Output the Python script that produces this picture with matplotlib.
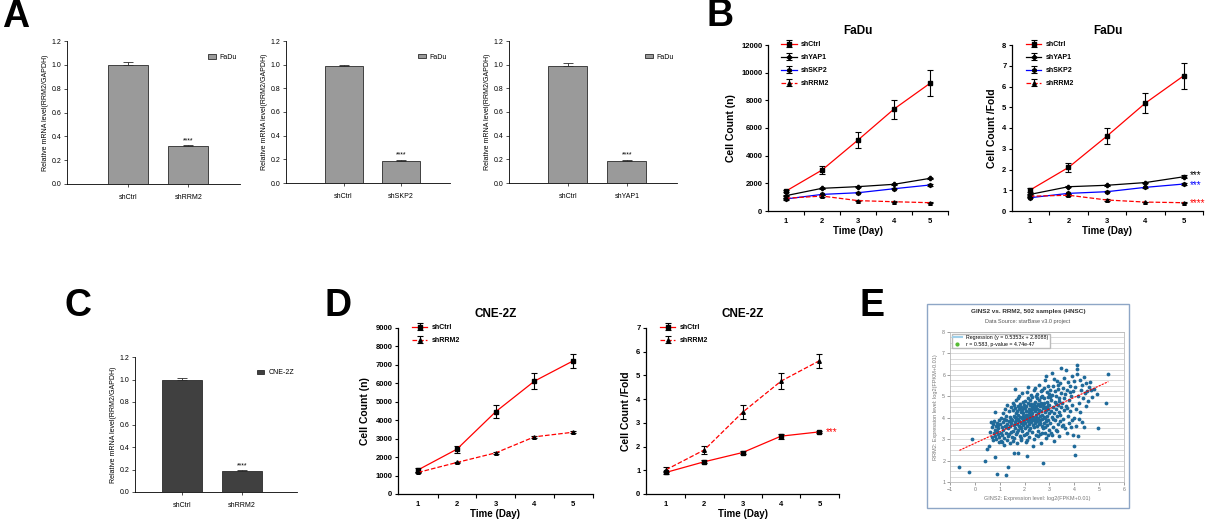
import numpy as np
import matplotlib
matplotlib.use("Agg")
import matplotlib.pyplot as plt
from matplotlib.lines import Line2D
from matplotlib.patches import Rectangle
from matplotlib.ticker import MultipleLocator

plt.rcParams['font.family'] = ['Liberation Sans', 'DejaVu Sans']

# ---------------- data ----------------
# panel A (qPCR, FaDu)
a_groups = [["shCtrl", "shRRM2"], ["shCtrl", "shSKP2"], ["shCtrl", "shYAP1"]]
a_vals = [[1.0, 0.32], [0.99, 0.19], [0.99, 0.19]]
a_errs = [[0.025, 0.004], [0.008, 0.008], [0.02, 0.008]]

# panel B (FaDu growth)
days = [1, 2, 3, 4, 5]
b_series = ["shCtrl", "shYAP1", "shSKP2", "shRRM2"]
b_count = {
    "shCtrl": [1440, 2960, 5130, 7370, 9230],
    "shYAP1": [1110, 1640, 1760, 1930, 2360],
    "shSKP2": [870, 1200, 1320, 1610, 1880],
    "shRRM2": [920, 1080, 750, 670, 600],
}
b_count_err = {
    "shCtrl": [80, 300, 580, 690, 930],
    "shYAP1": [40, 40, 40, 40, 60],
    "shSKP2": [40, 40, 40, 40, 60],
    "shRRM2": [40, 100, 40, 40, 40],
}
b_fold = {
    "shCtrl": [1.01, 2.10, 3.61, 5.20, 6.52],
    "shYAP1": [0.80, 1.17, 1.24, 1.37, 1.65],
    "shSKP2": [0.64, 0.85, 0.93, 1.14, 1.30],
    "shRRM2": [0.71, 0.76, 0.53, 0.43, 0.40],
}
b_fold_err = {
    "shCtrl": [0.08, 0.20, 0.40, 0.48, 0.63],
    "shYAP1": [0.03, 0.03, 0.03, 0.04, 0.08],
    "shSKP2": [0.03, 0.03, 0.03, 0.03, 0.04],
    "shRRM2": [0.03, 0.05, 0.03, 0.02, 0.02],
}
b_stars = {"shYAP1": "***", "shSKP2": "***", "shRRM2": "****"}

# panel C (qPCR, CNE-2Z)
c_groups = ["shCtrl", "shRRM2"]
c_vals = [1.0, 0.185]
c_errs = [0.015, 0.008]

# panel D (CNE-2Z growth)
d_series = ["shCtrl", "shRRM2"]
d_count = {"shCtrl": [1310, 2430, 4460, 6120, 7220],
           "shRRM2": [1170, 1710, 2230, 3100, 3350]}
d_count_err = {"shCtrl": [110, 180, 360, 430, 380],
               "shRRM2": [40, 40, 40, 60, 40]}
d_fold = {"shCtrl": [0.91, 1.36, 1.75, 2.44, 2.62],
          "shRRM2": [1.02, 1.86, 3.45, 4.76, 5.62]}
d_fold_err = {"shCtrl": [0.06, 0.06, 0.05, 0.1, 0.04],
              "shRRM2": [0.1, 0.16, 0.3, 0.35, 0.3]}

# panel E (GINS2 vs RRM2 scatter)
gins2 = [
    0.62, 0.68, 0.70, 0.74, 0.76, 0.79, 0.80, 0.83, 0.85, 0.87, 0.88, 0.90, 0.92, 0.95, 0.96, 0.98, 0.99, 0.72, 0.93, 0.66,
    1.02, 1.04, 1.05, 1.07, 1.09, 1.10, 1.12, 1.14, 1.15, 1.17, 1.19, 1.20, 1.22, 1.24, 1.25, 1.27, 1.28, 1.30, 1.31, 1.33,
    1.35, 1.36, 1.38, 1.40, 1.41, 1.43, 1.44, 1.46, 1.47, 1.49, 1.10, 1.26, 1.39, 1.18, 1.45,
    1.51, 1.52, 1.53, 1.54, 1.55, 1.56, 1.57, 1.58, 1.60, 1.61, 1.62, 1.63, 1.64, 1.65, 1.66, 1.67, 1.68, 1.70, 1.71, 1.72,
    1.73, 1.74, 1.75, 1.76, 1.77, 1.78, 1.79, 1.80, 1.81, 1.82, 1.83, 1.84, 1.85, 1.86, 1.87, 1.88, 1.89, 1.90, 1.91, 1.92,
    1.93, 1.94, 1.95, 1.96, 1.97, 1.98, 1.99, 1.58, 1.69, 1.84, 1.62, 1.93, 1.74, 1.66, 1.87,
    2.00, 2.01, 2.02, 2.03, 2.04, 2.05, 2.06, 2.07, 2.08, 2.09, 2.10, 2.11, 2.12, 2.13, 2.14, 2.15, 2.16, 2.17, 2.18, 2.19,
    2.20, 2.21, 2.22, 2.23, 2.24, 2.25, 2.26, 2.27, 2.28, 2.29, 2.30, 2.31, 2.32, 2.33, 2.34, 2.35, 2.36, 2.37, 2.38, 2.39,
    2.40, 2.41, 2.42, 2.43, 2.44, 2.45, 2.46, 2.47, 2.48, 2.49, 2.02, 2.07, 2.13, 2.18, 2.23, 2.27, 2.32, 2.37, 2.42, 2.47,
    2.05, 2.28, 2.44, 2.16, 2.35, 2.10,
    2.50, 2.51, 2.52, 2.53, 2.54, 2.55, 2.56, 2.57, 2.58, 2.59, 2.60, 2.61, 2.62, 2.63, 2.64, 2.65, 2.66, 2.67, 2.68, 2.69,
    2.70, 2.71, 2.72, 2.73, 2.74, 2.75, 2.76, 2.77, 2.78, 2.79, 2.80, 2.81, 2.82, 2.83, 2.84, 2.85, 2.86, 2.87, 2.88, 2.89,
    2.90, 2.91, 2.92, 2.93, 2.94, 2.95, 2.96, 2.97, 2.98, 2.99, 2.55, 2.60, 2.66, 2.72, 2.78, 2.84, 2.90, 2.96, 2.63, 2.81,
    2.93, 2.70,
    3.00, 3.02, 3.03, 3.05, 3.06, 3.08, 3.09, 3.10, 3.12, 3.13, 3.15, 3.16, 3.18, 3.19, 3.21, 3.22, 3.24, 3.25, 3.27, 3.28,
    3.30, 3.31, 3.33, 3.34, 3.36, 3.37, 3.39, 3.40, 3.42, 3.43, 3.45, 3.46, 3.48, 3.49, 3.04, 3.14, 3.20, 3.26, 3.32, 3.38,
    3.44, 3.11, 3.35,
    3.51, 3.53, 3.55, 3.57, 3.59, 3.61, 3.63, 3.65, 3.67, 3.69, 3.71, 3.73, 3.75, 3.77, 3.79, 3.81, 3.83, 3.85, 3.87, 3.89,
    3.91, 3.93, 3.95, 3.97, 3.99, 3.60, 3.72, 3.84, 3.90, 3.56,
    4.00, 4.03, 4.04, 4.06, 4.08, 4.10, 4.11, 4.12, 4.13, 4.15, 4.18, 4.21, 4.24, 4.27, 4.30, 4.33, 4.36, 4.38, 4.40, 4.43,
    4.46, 4.49, 4.20,
    4.52, 4.56, 4.60, 4.63, 4.66, 4.72, 4.80, 4.90, 4.94, 5.27, 5.37,
    -0.62, -0.22, -0.10, 0.41, 0.47, 0.58, 0.81, 0.88, 1.25, 1.33, 0.82, 1.57, 1.75, 2.10,
]
rrm2 = [
    3.35, 3.55, 3.10, 3.70, 3.30, 3.85, 3.45, 3.15, 3.60, 3.00, 3.75, 3.40, 3.25, 3.65, 3.90, 3.10, 2.85, 2.95, 3.50, 3.80,
    3.70, 3.30, 4.00, 2.90, 3.55, 3.20, 4.20, 3.80, 3.45, 2.75, 3.05, 4.40, 3.60, 3.90, 3.30, 4.10, 2.95, 3.70, 4.60, 3.50,
    3.15, 4.30, 3.85, 2.80, 3.60, 4.05, 3.35, 3.95, 4.50, 3.10, 2.85, 3.55, 3.25, 3.95, 3.75,
    3.90, 4.35, 3.40, 2.90, 4.70, 3.65, 4.10, 3.05, 4.45, 3.80, 3.50, 5.35, 4.20, 3.25, 4.00, 4.85, 3.70, 4.30, 2.80, 3.95,
    4.55, 3.45, 4.15, 3.60, 5.00, 4.40, 3.85, 3.15, 4.65, 4.05, 3.55, 4.25, 2.95, 3.75, 4.50, 4.00, 5.15, 3.40, 4.35, 3.90,
    4.75, 3.65, 4.10, 3.20, 4.45, 3.80, 4.60, 4.60, 3.35, 3.50, 4.05, 4.20, 4.90, 3.90, 3.05,
    4.00, 3.50, 4.80, 3.75, 4.30, 2.85, 4.55, 3.95, 5.20, 3.60, 4.15, 3.30, 4.70, 4.00, 3.85, 5.45, 4.40, 3.70, 4.25, 3.10,
    4.60, 3.95, 4.85, 3.50, 4.35, 4.10, 5.05, 3.80, 4.50, 3.35, 4.20, 4.95, 3.65, 4.40, 2.70, 4.05, 4.65, 3.90, 5.30, 3.55,
    4.30, 4.75, 5.40, 3.75, 4.15, 3.20, 4.55, 4.00, 4.90, 3.60, 4.45, 3.25, 4.90, 3.45, 4.15, 4.65, 4.00, 3.00, 4.45, 3.85,
    4.15, 3.90, 5.00, 4.00, 4.50, 2.95,
    4.40, 3.85, 5.10, 4.20, 3.40, 4.65, 4.00, 5.55, 3.70, 4.35, 4.85, 3.25, 4.10, 4.55, 3.90, 5.25, 4.30, 2.80, 4.70, 3.60,
    4.15, 5.00, 3.95, 4.45, 1.90, 3.50, 4.60, 5.40, 4.05, 3.75, 4.90, 4.25, 3.30, 5.75, 4.50, 3.85, 5.95, 4.35, 3.05, 4.75,
    4.10, 5.20, 3.65, 4.40, 4.95, 3.90, 4.60, 3.45, 5.10, 4.20, 3.15, 4.60, 4.95, 3.30, 4.70, 3.55, 4.50, 5.50, 3.75, 4.00,
    3.20, 5.30,
    4.60, 3.75, 5.30, 4.30, 3.30, 4.85, 6.10, 4.05, 5.05, 3.55, 4.50, 5.50, 4.20, 2.90, 4.75, 3.90, 5.25, 4.40, 3.45, 5.00,
    4.10, 5.70, 3.70, 4.60, 5.35, 4.25, 3.15, 4.90, 5.60, 3.85, 6.30, 4.50, 5.15, 3.60, 4.95, 3.95, 5.80, 4.65, 3.40, 4.80,
    4.15, 3.20, 5.55,
    4.70, 5.40, 3.95, 5.85, 4.35, 3.50, 5.10, 6.25, 4.55, 3.30, 5.30, 4.10, 5.65, 3.75, 4.85, 5.50, 4.30, 3.55, 5.00, 5.95,
    4.60, 3.20, 5.25, 4.00, 5.70, 4.90, 4.45, 5.20, 3.90, 3.65,
    2.70, 2.25, 5.45, 4.40, 3.60, 6.05, 6.27, 6.48, 3.15, 5.00, 4.70, 5.75, 4.25, 5.30, 3.80, 5.55, 4.90, 5.90, 3.56, 5.15,
    4.55, 5.60, 3.95,
    5.25, 4.80, 5.45, 5.68, 5.29, 4.95, 5.35, 5.11, 3.51, 4.69, 6.02,
    1.70, 1.47, 3.00, 2.00, 2.55, 2.70, 2.15, 1.37, 1.31, 1.70, 4.28, 2.35, 2.35, 2.23,
]
fit_slope, fit_icpt = 0.5353, 2.8088

# ---------------- figure ----------------
W, H = 1213, 521
fig = plt.figure(figsize=(W / 100, H / 100), dpi=100)


def px_axes(l, t, r, b):
    return fig.add_axes([l / W, 1 - b / H, (r - l) / W, (b - t) / H])


def fig_text(x, y, s, **kw):
    fig.text(x / W, 1 - y / H, s, **kw)


def bar_panel(box, labels, vals, errs, leg, color, xlim):
    ax = px_axes(*box)
    xs = np.arange(len(labels))
    ax.bar(xs, vals, width=0.66, color=color, edgecolor='#2a2a2a', lw=0.6, label=leg)
    ax.errorbar(xs, vals, yerr=[[0] * len(errs), errs], fmt='none', ecolor='#2a2a2a',
                elinewidth=0.6, capsize=3.5, capthick=0.6)
    ax.text(1, vals[1] + errs[1] + 0.01, '****', ha='center', va='bottom', fontsize=5)
    ax.set_xlim(*xlim)
    ax.set_ylim(0, 1.2)
    ax.set_yticks(np.arange(0, 1.21, 0.2))
    ax.set_yticklabels(['%.1f' % v for v in np.arange(0, 1.21, 0.2)])
    ax.set_xticks(xs)
    ax.set_xticklabels(labels)
    ax.tick_params(labelsize=5, width=0.6, length=2.5, pad=1.5, color='#333333')
    ax.tick_params(axis='x', pad=5)
    for s in ['top', 'right']:
        ax.spines[s].set_visible(False)
    for s in ['left', 'bottom']:
        ax.spines[s].set_linewidth(0.6)
    ax.set_ylabel('Relative mRNA level(RRM2/GAPDH)', fontsize=5, labelpad=2)
    ax.legend(loc='upper right', bbox_to_anchor=(1.0, 0.93), frameon=False, fontsize=5,
              handlelength=1.1, handleheight=0.6, handletextpad=0.6, borderaxespad=0)
    return ax


styles = {
    "shCtrl": dict(color='red', ls='-', marker='s', ms=2.8),
    "shYAP1": dict(color='black', ls='-', marker='P', ms=3),
    "shSKP2": dict(color='blue', ls='-', marker='h', ms=2.8),
    "shRRM2": dict(color='red', ls='--', marker='^', ms=2.6),
}


def growth_panel(box, names, vals, errs, ylim, yticks, xlim, title, ylabel, stars=None, star_dy=None):
    ax = px_axes(*box)
    for n in names:
        st = styles[n]
        ax.errorbar(days, vals[n], yerr=errs[n], color=st['color'], ls=st['ls'], lw=0.9,
                    marker=st['marker'], ms=st['ms'], mfc='black', mec='black',
                    ecolor='black', elinewidth=0.8, capsize=2.2, capthick=0.8, label=n)
    if stars:
        for n, s in stars.items():
            dy = star_dy.get(n, 0) if star_dy else 0
            ax.text(5.17, vals[n][-1] + dy, s, color=styles[n]['color'] if n != "shYAP1" else 'black',
                    fontsize=7, va='center', ha='left', clip_on=False)
    ax.set_xlim(*xlim)
    ax.set_ylim(*ylim)
    ax.set_xticks(days)
    ax.set_xticks([1.5, 2.5, 3.5, 4.5, 5.5], minor=True)
    ax.tick_params(axis='x', which='major', length=0, pad=5)
    ax.tick_params(axis='x', which='minor', length=3, width=0.8)
    ax.set_yticks(yticks)
    ax.tick_params(axis='y', length=2.5, width=0.8, pad=1.5)
    ax.tick_params(labelsize=5.5)
    for lab in ax.get_xticklabels() + ax.get_yticklabels():
        lab.set_fontweight('bold')
    for s in ['top', 'right']:
        ax.spines[s].set_visible(False)
    for s in ['left', 'bottom']:
        ax.spines[s].set_linewidth(0.9)
    ax.set_title(title, fontsize=8.5, fontweight='bold', pad=8)
    ax.set_ylabel(ylabel, fontsize=7.5, fontweight='bold', labelpad=4)
    ax.set_xlabel('Time (Day)', fontsize=7, fontweight='bold', labelpad=1)
    ax.legend(loc='upper left', bbox_to_anchor=(0.04, 1.06), frameon=False,
              prop=dict(size=5, weight='bold'), handlelength=2.2, labelspacing=0.85,
              handletextpad=0.6)
    return ax


# ----- panel A -----
a_boxes = [(67, 41, 240, 184), (286, 41, 450, 183), (509, 41, 677, 183)]
for box, g, v, e in zip(a_boxes, a_groups, a_vals, a_errs):
    bar_panel(box, g, v, e, 'FaDu', '#9a9a9a', (-1.0, 1.85))

# ----- panel B -----
growth_panel((768, 45, 948, 211), b_series, b_count, b_count_err, (0, 12000),
             range(0, 12001, 2000), (0.5, 5.18), 'FaDu', 'Cell Count (n)')
growth_panel((1012, 45, 1203, 211), b_series, b_fold, b_fold_err, (0, 8),
             range(0, 9), (0.53, 5.49), 'FaDu', 'Cell Count /Fold', stars=b_stars,
             star_dy={"shYAP1": 0.08, "shSKP2": -0.05})

# ----- panel C -----
axc = bar_panel((135, 357, 297, 492), c_groups, c_vals, c_errs, 'CNE-2Z', '#404040', (-0.78, 1.92))

# ----- panel D -----
growth_panel((398, 328, 593, 494), d_series, d_count, d_count_err, (0, 9000),
             range(0, 9001, 1000), (0.48, 5.51), 'CNE-2Z', 'Cell Count (n)')
growth_panel((646, 328, 839, 494), d_series, d_fold, d_fold_err, (0, 7),
             range(0, 8), (0.48, 5.51), 'CNE-2Z', 'Cell Count /Fold', stars={"shCtrl": "***"})

# ----- panel E -----
fig.patches.append(Rectangle((927 / W, 1 - 508 / H), 202 / W, 204 / H, transform=fig.transFigure,
                             fill=False, edgecolor='#8ea6c6', lw=1.0))
axe = px_axes(950, 332, 1124, 482)
axe.scatter(gins2, rrm2, s=7.5, color='#1f6a9a', linewidths=0, zorder=3)
fx = np.array([min(gins2), max(gins2)])
axe.plot(fx, fit_slope * fx + fit_icpt, color='red', ls='--', lw=0.8, dashes=(2, 1), zorder=4)
axe.set_xlim(-1, 6)
axe.set_ylim(1, 8)
axe.set_xticks(range(-1, 7))
axe.set_yticks(range(1, 9))
axe.yaxis.set_minor_locator(MultipleLocator(0.25))
axe.grid(axis='y', which='both', color='#d6d6d6', lw=0.6)
axe.set_axisbelow(True)
axe.tick_params(labelsize=3.8, colors='#777777', length=2, width=0.5, pad=1.5)
axe.tick_params(axis='y', which='minor', length=0)
for s in axe.spines.values():
    s.set_color('#bbbbbb')
    s.set_linewidth(0.6)
axe.set_xlabel('GINS2: Expression level: log2(FPKM+0.01)', fontsize=4, color='#777777', labelpad=3)
axe.set_ylabel('RRM2: Expression level: log2(FPKM+0.01)', fontsize=4, color='#777777', labelpad=3)
e_handles = [Line2D([], [], color='#9fd0ea', lw=1.5),
             Line2D([], [], color='#55bb33', marker='o', ls='none', ms=2)]
axe.legend(e_handles, ['Regression (y = 0.5353x + 2.8088)', 'r = 0.583, p-value = 4.74e-47'],
           loc='upper left', fontsize=3.8, frameon=True, edgecolor='#bbbbbb', fancybox=False,
           framealpha=1, handlelength=1.6, borderpad=0.3, labelspacing=0.3,
           bbox_to_anchor=(0.0, 1.0), borderaxespad=0.3)
fig_text(1028, 312, 'GINS2 vs. RRM2, 502 samples (HNSC)', fontsize=4.6, fontweight='bold',
         color='#333333', ha='center', va='center')
fig_text(1028, 322, 'Data Source: starBase v3.0 project', fontsize=4, color='#555555',
         ha='center', va='center')

# ----- panel letters -----
for x, y, s in [(16, 17, 'A'), (720, 16, 'B'), (78, 306, 'C'), (338, 306, 'D'), (872, 306, 'E')]:
    fig_text(x, y, s, fontsize=27, fontweight='bold', ha='center', va='center')

fig.savefig('out.png', dpi=100)
